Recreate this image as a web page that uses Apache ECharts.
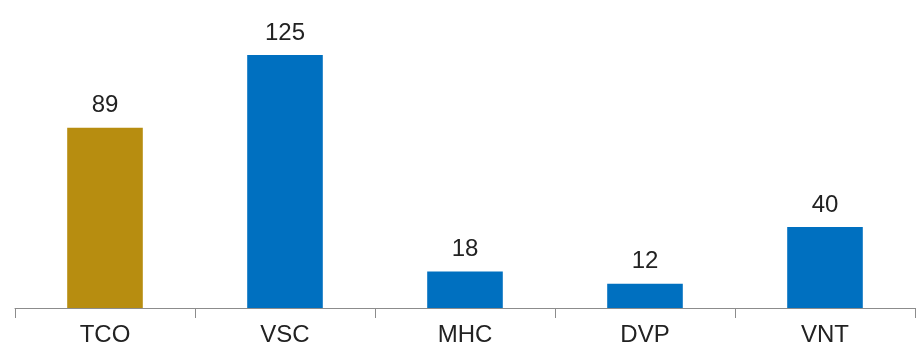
<!DOCTYPE html>
<html>
<head>
<meta charset="utf-8">
<script src="https://cdn.jsdelivr.net/npm/echarts@6/dist/echarts.min.js"></script>
<style>
  html, body { margin: 0; padding: 0; background: #fff; }
  #mainChart { width: 922px; height: 350px; }
</style>
</head>
<body>
<div id="mainChart"></div>
<script>
const categories = ['TCO', 'VSC', 'MHC', 'DVP', 'VNT']
const values = [89, 125, 18, 12, 40]
const barColors = ['#B78D10', '#0070C0', '#0070C0', '#0070C0', '#0070C0']

const myChart = echarts.init(document.getElementById('mainChart'))

myChart.setOption({
  animation: false,
  grid: { left: 15, right: 7, top: 55, bottom: 42 },
  xAxis: {
    type: 'category',
    data: categories,
    axisLine: { lineStyle: { color: '#8c8c8c', width: 1 } },
    axisTick: { show: true, length: 10, lineStyle: { color: '#8c8c8c' } },
    axisLabel: {
      margin: 15,
      fontSize: 24,
      color: '#222',
      fontFamily: 'Liberation Sans, Arial, sans-serif',
    },
  },
  yAxis: {
    type: 'value',
    min: 0,
    max: 125,
    show: false,
    splitLine: { show: false },
  },
  series: [
    {
      type: 'bar',
      barWidth: '42%',
      data: values.map((v, i) => ({ value: v, itemStyle: { color: barColors[i] } })),
      label: {
        show: true,
        position: 'top',
        distance: 10,
        fontSize: 24,
        color: '#222',
        fontFamily: 'Liberation Sans, Arial, sans-serif',
      },
    },
  ],
})
</script>
</body>
</html>
